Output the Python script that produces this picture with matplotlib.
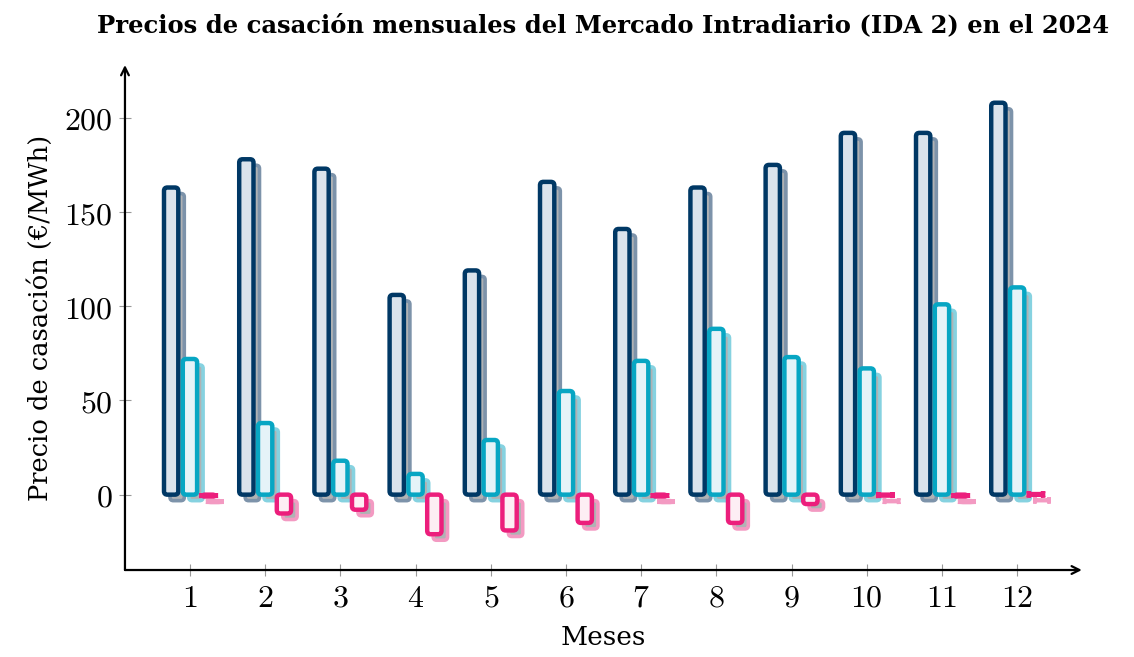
import numpy as np
import matplotlib
matplotlib.use("Agg")
import matplotlib.pyplot as plt
from matplotlib.patches import FancyBboxPatch
from matplotlib.transforms import ScaledTranslation

plt.rcParams['mathtext.fontset'] = 'cm'

# Datos (EUR/MWh)
meses = np.arange(1, 13)
precio_max = [163, 178, 173, 106, 119, 166, 141, 163, 175, 192, 192, 208]
precio_med = [72, 38, 18, 11, 29, 55, 71, 88, 73, 67, 101, 110]
precio_min = [-1, -10, -8, -21, -19, -15, -1, -15, -5, -0.5, -1, 0.3]

series = [
    (precio_max, -0.25, '#003865', '#dae3ec', '#7d93aa'),
    (precio_med, 0.0, '#07a6c3', '#e5f3f8', '#86d2e0'),
    (precio_min, 0.25, '#ec1e7c', '#fdeef4', '#f39ac2'),
]
ancho = 0.19

fig = plt.figure(figsize=(11.34, 6.57), dpi=100)
ax = fig.add_axes([0.1102, 0.1324, 0.8438, 0.7686])
ax.set_xlim(0.136, 12.86)
ax.set_ylim(-40, 228)

# relacion de aspecto para redondear esquinas igual en x e y
asp = (75.2 / 1.885)
sombra = ScaledTranslation(6 / 100, -6 / 100, fig.dpi_scale_trans)

for valores, desp, borde, relleno, bsombra in series:
    for m, v in zip(meses, valores):
        x0 = m + desp - ancho / 2
        y0 = min(0, v)
        h = abs(v)
        # sombra
        s = FancyBboxPatch((x0, y0), ancho, h,
                           boxstyle="round,pad=0,rounding_size=0.045",
                           mutation_aspect=asp, facecolor='#b0b2b4',
                           edgecolor=bsombra, linewidth=2.6,
                           transform=ax.transData + sombra, zorder=2)
        ax.add_patch(s)
        b = FancyBboxPatch((x0, y0), ancho, h,
                           boxstyle="round,pad=0,rounding_size=0.045",
                           mutation_aspect=asp, facecolor=relleno,
                           edgecolor=borde, linewidth=3.2, zorder=3)
        ax.add_patch(b)

# ejes con flechas
for sp in ax.spines.values():
    sp.set_visible(False)
ax.annotate('', xy=(1, 0), xytext=(0, 0), xycoords='axes fraction',
            arrowprops=dict(arrowstyle='->', lw=1.6, color='black',
                            shrinkA=0, shrinkB=0, mutation_scale=14))
ax.annotate('', xy=(0, 1), xytext=(0, 0), xycoords='axes fraction',
            arrowprops=dict(arrowstyle='->', lw=1.6, color='black',
                            shrinkA=0, shrinkB=0, mutation_scale=14))

ax.set_xticks(meses)
ax.set_xticklabels([f'${m}$' for m in meses])
yt = [0, 50, 100, 150, 200]
ax.set_yticks(yt)
ax.set_yticklabels([f'${v}$' for v in yt])
ax.tick_params(direction='inout', length=8, width=0.8, color='#999999',
               labelsize=23, pad=5)

ax.set_xlabel('Meses', fontsize=19, family='DejaVu Serif', labelpad=8)
ax.set_ylabel('Precio de casación (€/MWh)', fontsize=18.5,
              family='DejaVu Serif', labelpad=8)
ax.set_title('Precios de casación mensuales del Mercado Intradiario (IDA 2) en el 2024',
             fontsize=17.5, fontweight='bold', family='DejaVu Serif', pad=24)

fig.savefig('out.png', dpi=100)
